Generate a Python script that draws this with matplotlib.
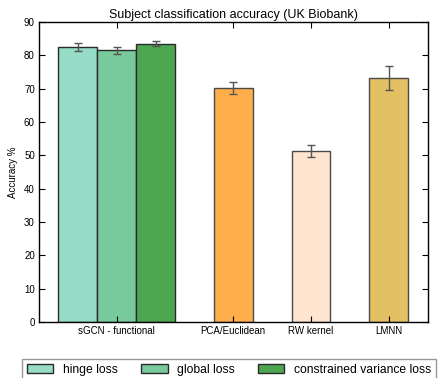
import matplotlib
matplotlib.use('Agg')
import matplotlib.pyplot as plt

plt.rcParams['font.family'] = ['Liberation Sans', 'DejaVu Sans']

# data
methods = ['sGCN - functional', 'PCA/Euclidean', 'RW kernel', 'LMNN']
loss_labels = ['hinge loss', 'global loss', 'constrained variance loss']
sgcn_acc = [82.5, 81.5, 83.5]
sgcn_err = [1.25, 1.05, 0.8]
baseline_acc = [70.2, 51.2, 73.2]
baseline_err = [1.85, 1.75, 3.65]

sgcn_colors = ['#96dcc6', '#78c99b', '#4ca650']
baseline_colors = ['#ffae4b', '#ffe5d0', '#e3c063']

fig = plt.figure(figsize=(4.4, 3.78), dpi=100)
ax = fig.add_axes([0.0886, 0.148, 0.883, 0.794])

sgcn_pos = [0, 1, 2]
baseline_pos = [4, 6, 8]

handles = []
for i in range(len(sgcn_acc)):
    b = ax.bar(sgcn_pos[i], sgcn_acc[i], width=1.0, color=sgcn_colors[i],
               edgecolor='#2a2a2a', linewidth=1.0, label=loss_labels[i])
    handles.append(b)
    ax.errorbar(sgcn_pos[i], sgcn_acc[i], yerr=sgcn_err[i], fmt='none',
                ecolor='#555555', elinewidth=1.0, capsize=3, capthick=1.0)

for i in range(len(baseline_acc)):
    ax.bar(baseline_pos[i], baseline_acc[i], width=1.0, color=baseline_colors[i],
           edgecolor='#4a4a4a', linewidth=1.0)
    ax.errorbar(baseline_pos[i], baseline_acc[i], yerr=baseline_err[i], fmt='none',
                ecolor='#555555', elinewidth=1.0, capsize=3, capthick=1.0)

ax.set_xlim(-1, 9)
ax.set_ylim(0, 90)
ax.set_yticks(range(0, 91, 10))
ax.set_xticks([1, 4, 6, 8])
ax.set_xticklabels(methods)
ax.tick_params(direction='in', top=True, right=True, labelsize=7, length=4,
               width=0.8, pad=3)
for s in ax.spines.values():
    s.set_linewidth(1.0)
ax.set_ylabel('Accuracy %', fontsize=7)
ax.set_title('Subject classification accuracy (UK Biobank)', fontsize=9, pad=3)

leg = fig.legend(handles=handles, loc='upper left', bbox_to_anchor=(0.05, 0.05),
                 ncol=3, fontsize=8.7, frameon=True, fancybox=False,
                 handlelength=2.2, handletextpad=0.8, columnspacing=1.9,
                 borderaxespad=0)
leg.get_frame().set_edgecolor('#808080')
leg.get_frame().set_linewidth(1.0)

fig.savefig('out.png', dpi=100)
